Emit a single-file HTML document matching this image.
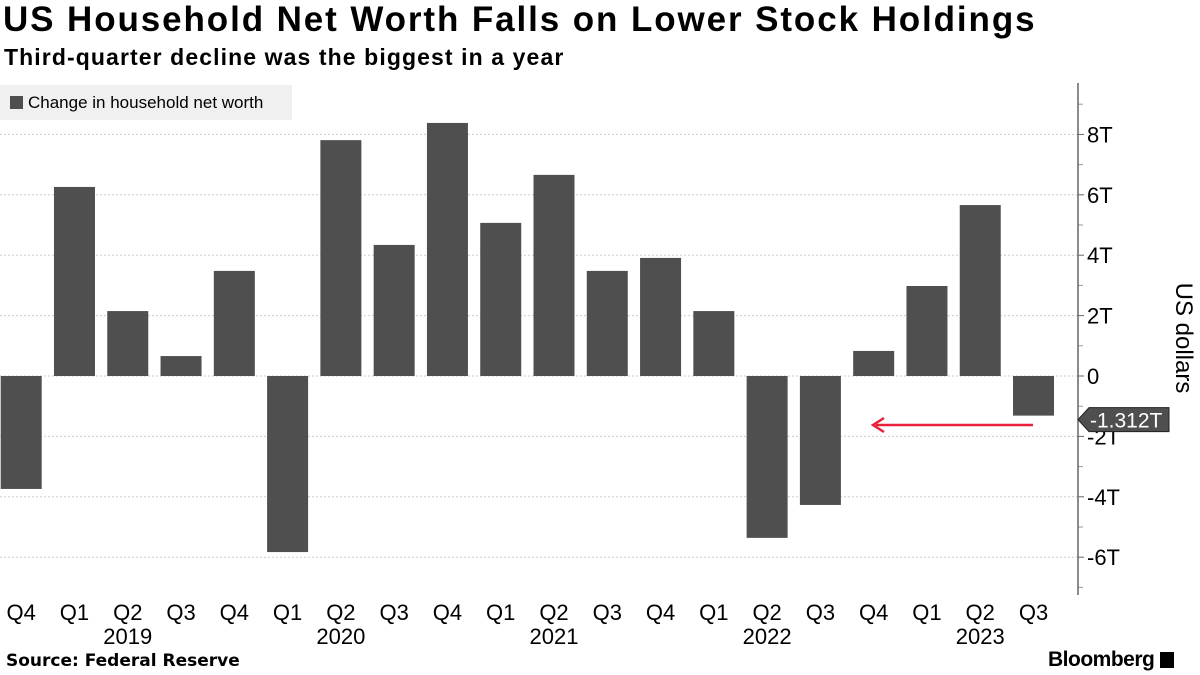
<!DOCTYPE html>
<html><head><meta charset="utf-8"><style>
body{margin:0;width:1200px;height:675px;background:#fff;overflow:hidden;font-family:"Liberation Sans",sans-serif}
#t{position:absolute;left:3px;top:0px;font-size:35px;font-weight:bold;color:#000;letter-spacing:1.9px;white-space:nowrap}
#s{position:absolute;left:4px;top:44px;font-size:23px;font-weight:bold;color:#000;letter-spacing:1.1px;white-space:nowrap}
#src{position:absolute;left:6px;top:651px;font-size:17px;font-weight:bold;font-family:"DejaVu Sans",sans-serif;white-space:nowrap}
#bb{position:absolute;left:1048px;top:648px;font-size:21px;font-weight:bold;letter-spacing:-0.5px}
</style></head><body>
<div id="t">US Household Net Worth Falls on Lower Stock Holdings</div>
<div id="s">Third-quarter decline was the biggest in a year</div>
<svg id="c" width="1200" height="675" style="position:absolute;left:0;top:0"></svg>
<div id="src">Source: Federal Reserve</div>
<div id="bb">Bloomberg <span style="display:inline-block;width:14px;height:16px;background:#000;vertical-align:-2px"></span></div>
<script>
const quarters=["Q4","Q1","Q2","Q3","Q4","Q1","Q2","Q3","Q4","Q1","Q2","Q3","Q4","Q1","Q2","Q3","Q4","Q1","Q2","Q3"];
const values=[-3.74,6.26,2.15,0.66,3.48,-5.83,7.81,4.34,8.38,5.07,6.66,3.48,3.91,2.15,-5.36,-4.27,0.83,2.98,5.66,-1.312];
const years=["2019","2020","2021","2022","2023"];
const yearIdx=[2,6,10,14,18];
const ticks=[-6,-4,-2,0,2,4,6,8];
const tickLabels=["-6T","-4T","-2T","0","2T","4T","6T","8T"];
const NS="http://www.w3.org/2000/svg";
const svg=document.getElementById('c');
function y(v){return 376-v*30.2;}
function x(i){return 21.2+i*53.28;}
function mk(t,a,p){const e=document.createElementNS(NS,t);for(const k in a)e.setAttribute(k,a[k]);(p||svg).appendChild(e);return e;}
ticks.forEach((v,i)=>{
 const g=mk('line',{x1:0,x2:1078,y1:y(v),y2:y(v),stroke:'#ccc','stroke-dasharray':'2,2'});
 
 
 const t=mk('text',{x:1087,y:y(v)+8,'font-size':22,fill:'#000'});
 t.textContent=tickLabels[i];
 
 
 mk('line',{x1:1078,x2:1084,y1:y(v),y2:y(v),stroke:'#666'});
 mk('line',{x1:1078,x2:1083,y1:y(v+1),y2:y(v+1),stroke:'#999'});
});
mk('line',{x1:1078,x2:1083,y1:y(-7),y2:y(-7),stroke:'#999'});
const ax=mk('line',{x1:1078,x2:1078,y1:83,y2:595,stroke:'#666','stroke-width':1.5});


values.forEach((v,i)=>{
 const b=mk('rect',{x:x(i)-20.5,width:41,y:Math.min(y(v),y(0)),height:Math.abs(y(v)-y(0)),fill:'#4f4f4f'});
 
 
 const t=mk('text',{x:x(i),y:620,'font-size':22,'text-anchor':'middle',fill:'#000'});
 t.textContent=quarters[i];
 
 
});
years.forEach((yr,i)=>{
 const t=mk('text',{x:x(yearIdx[i]),y:644,'font-size':22,'text-anchor':'middle',fill:'#000'});
 t.textContent=yr;
 
 
});
const yt=mk('text',{x:0,y:0,'font-size':24,'text-anchor':'middle',transform:'translate(1176,338) rotate(90)',fill:'#000'});
yt.textContent='US dollars';


const last=values[values.length-1];
const ty=y(last)+4;
const tag=mk('path',{d:`M1078,${ty} L1089,${ty-12} L1169,${ty-12} L1169,${ty+12} L1089,${ty+12} Z`,fill:'#4f4f4f',stroke:'#222'});


const tt=mk('text',{x:1090,y:ty+8,'font-size':21,fill:'#fff'});
tt.textContent=last.toFixed(3)+'T';
const ar=mk('line',{x1:1033,x2:876,y1:425,y2:425,stroke:'#e8203c','stroke-width':2.5});


mk('path',{d:'M884,418 L873,425 L884,432',fill:'none',stroke:'#e8203c','stroke-width':2.5});
const lg=mk('rect',{x:0,y:85,width:292,height:35,fill:'#f0f0f0'});


mk('rect',{x:10,y:96,width:13,height:13,fill:'#4f4f4f'});
const lt=mk('text',{x:28,y:108,'font-size':17,fill:'#000'});
lt.textContent='Change in household net worth';


</script>
</body></html>
